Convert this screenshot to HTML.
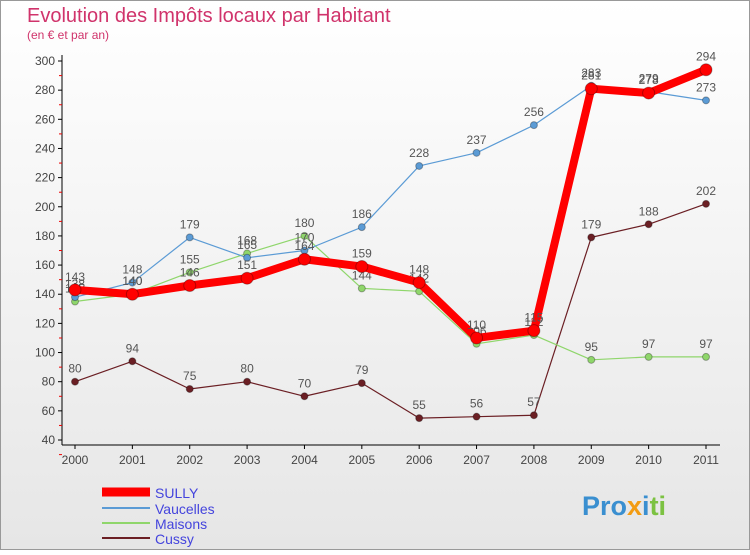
<!DOCTYPE html>
<html><head><meta charset="utf-8"><style>
body{margin:0;width:750px;height:550px;overflow:hidden;font-family:"Liberation Sans",sans-serif}
</style></head><body>
<svg id="c" width="750" height="550" xmlns="http://www.w3.org/2000/svg">
<defs><linearGradient id="bg" x1="0" y1="0" x2="0" y2="1"><stop offset="0" stop-color="#ffffff"/><stop offset="1" stop-color="#e6e6e6"/></linearGradient></defs>
<rect x="0.5" y="0.5" width="749" height="549" fill="url(#bg)" stroke="#999"/>
<text x="27" y="22" font-size="20" fill="#d0336b">Evolution des Impôts locaux par Habitant</text>
<text x="27" y="39" font-size="12" fill="#d0336b">(en € et par an)</text>
<g id="axes"></g><g id="series"></g>
<g>
<line x1="102" y1="492" x2="150" y2="492" stroke="#f00" stroke-width="9"/>
<text x="155" y="498" font-size="14" fill="#4444dd">SULLY</text>
<line x1="102" y1="508" x2="150" y2="508" stroke="#5b9bd5" stroke-width="2"/>
<text x="155" y="514" font-size="14" fill="#4444dd">Vaucelles</text>
<line x1="102" y1="523" x2="150" y2="523" stroke="#8fd66b" stroke-width="2"/>
<text x="155" y="529" font-size="14" fill="#4444dd">Maisons</text>
<line x1="102" y1="538" x2="150" y2="538" stroke="#6b1f24" stroke-width="2"/>
<text x="155" y="544" font-size="14" fill="#4444dd">Cussy</text>
</g>
<text x="582" y="515" font-size="27" font-weight="bold" fill="#3a8fd0">Pro<tspan fill="#f39c12">x</tspan><tspan fill="#3a8fd0">i</tspan><tspan fill="#7cc242">ti</tspan></text>
</svg>
<script>
const years=["2000","2001","2002","2003","2004","2005","2006","2007","2008","2009","2010","2011"];
const yTicks=[40,60,80,100,120,140,160,180,200,220,240,260,280,300];
const sully=[143,140,146,151,164,159,148,110,115,281,278,294];
const vaucelles=[138,148,179,165,170,186,228,237,256,283,279,273];
const maisons=[135,140,155,168,180,144,142,106,112,95,97,97];
const cussy=[80,94,75,80,70,79,55,56,57,179,188,202];
const NS="http://www.w3.org/2000/svg";
function xS(i){return 75+i*(706-75)/11;}
function yS(v){return 440-(v-40)*(440-61)/260;}
function mk(t,a,p){const e=document.createElementNS(NS,t);for(const k in a)e.setAttribute(k,a[k]);p.appendChild(e);return e;}
const ax=document.getElementById('axes');
const yl=mk('line',{x1:62,y1:55,x2:62,y2:445,stroke:'#000'},ax);


const xl=mk('line',{x1:62,y1:445,x2:720,y2:445,stroke:'#000'},ax);


yTicks.forEach(v=>{const y=yS(v);
mk('line',{x1:58,y1:y,x2:62,y2:y,stroke:'#000'},ax);
mk('line',{x1:59,y1:y+14.6,x2:62,y2:y+14.6,stroke:'#e00'},ax);
const t=mk('text',{x:55,y:y+4,'font-size':12,'text-anchor':'end',fill:'#444'},ax);t.textContent=v;

});
years.forEach((yr,i)=>{const x=xS(i);mk('line',{x1:x,y1:445,x2:x,y2:449,stroke:'#000'},ax);
const t=mk('text',{x:x,y:464,'font-size':12,'text-anchor':'middle',fill:'#444'},ax);t.textContent=yr;

});
const sg=document.getElementById('series');
function draw(name,data,color,w,r){const g=mk('g',{},sg);


mk('polyline',{points:data.map((v,i)=>xS(i)+','+yS(v)).join(' '),fill:'none',stroke:color,'stroke-width':w,'stroke-linejoin':'round'},g);
data.forEach((v,i)=>{const c=mk('circle',{cx:xS(i),cy:yS(v),r:r,fill:color,stroke:'rgba(0,0,0,0.3)'},g);


const t=mk('text',{x:xS(i),y:yS(v)-9,'font-size':12,'text-anchor':'middle',fill:'#555'},g);t.textContent=v;

});}
draw('cussy',cussy,'#6b1f24',1.2,3.5);
draw('maisons',maisons,'#8fd66b',1.2,3.5);
draw('vaucelles',vaucelles,'#5b9bd5',1.2,3.5);
draw('sully',sully,'#f00',8,6);
</script>
</body></html>
